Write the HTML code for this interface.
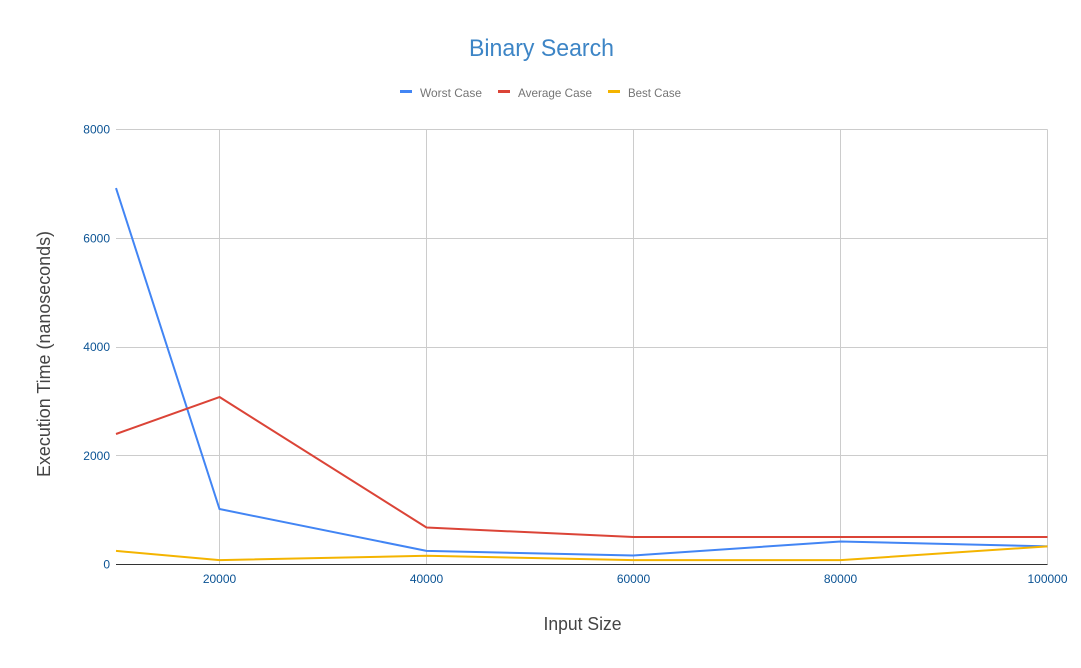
<!DOCTYPE html>
<html>
<head>
<meta charset="utf-8">
<title>Binary Search</title>
<style>
html,body{margin:0;padding:0;background:#fff;width:1081px;height:668px;overflow:hidden}
svg{display:block;font-family:"Liberation Sans",Arial,sans-serif}
</style>
</head>
<body>
<svg id="chart" xmlns="http://www.w3.org/2000/svg" width="1081" height="668" viewBox="0 0 1081 668">
  <rect x="0" y="0" width="1081" height="668" fill="#ffffff"/>
  <g id="grid"></g>
  <g id="series"></g>
  <g id="ticks"></g>
  <text x="541.5" y="56" text-anchor="middle" font-size="24" fill="#3d85c6" textLength="145" lengthAdjust="spacingAndGlyphs">Binary Search</text>
  <g>
    <g>
      <rect x="400" y="90" width="12" height="3" fill="#4285f4"/>
      <text x="420" y="97" font-size="12" fill="#757575" textLength="62" lengthAdjust="spacingAndGlyphs">Worst Case</text>
    </g>
    <g>
      <rect x="498" y="90" width="12" height="3" fill="#db4437"/>
      <text x="518" y="97" font-size="12" fill="#757575" textLength="74" lengthAdjust="spacingAndGlyphs">Average Case</text>
    </g>
    <g>
      <rect x="608" y="90" width="12" height="3" fill="#f4b400"/>
      <text x="628" y="97" font-size="12" fill="#757575" textLength="53" lengthAdjust="spacingAndGlyphs">Best Case</text>
    </g>
  </g>
  <text x="582.5" y="630" text-anchor="middle" font-size="18" fill="#444444" textLength="78" lengthAdjust="spacingAndGlyphs">Input Size</text>
  <text transform="translate(50,354) rotate(-90)" x="0" y="0" text-anchor="middle" font-size="18" fill="#444444" textLength="246" lengthAdjust="spacingAndGlyphs">Execution Time (nanoseconds)</text>
</svg>
<script>
var inputSizes = [10000, 20000, 40000, 60000, 80000, 100000];
var worstCase = [6924, 1020, 250, 166, 423, 333];
var averageCase = [2400, 3080, 680, 505, 505, 505];
var bestCase = [250, 80, 160, 80, 80, 333];
var xTickValues = [20000, 40000, 60000, 80000, 100000];
var yTickValues = [0, 2000, 4000, 6000, 8000];

var NS = 'http://www.w3.org/2000/svg';
var plotLeft = 116, plotRight = 1047.5, plotTop = 129.5, plotBottom = 564.5;
var xMin = 10000, xMax = 100000, yMin = 0, yMax = 8000;

function xScale(v) {
  return plotLeft + (v - xMin) / (xMax - xMin) * (plotRight - plotLeft);
}
function yScale(v) {
  return plotBottom - (v - yMin) / (yMax - yMin) * (plotBottom - plotTop);
}
function snap(p) {
  return Math.floor(p) + 0.5;
}
function make(tag, attrs) {
  var el = document.createElementNS(NS, tag);
  for (var k in attrs) { el.setAttribute(k, attrs[k]); }
  return el;
}

var grid = document.getElementById('grid');
var ticks = document.getElementById('ticks');
var seriesGroup = document.getElementById('series');

yTickValues.forEach(function (v) {
  var y = yScale(v);
  if (v !== 0) {
    var line = make('line', {x1: plotLeft, x2: plotRight, y1: snap(y), y2: snap(y), stroke: '#cccccc', 'stroke-width': 1, 'shape-rendering': 'crispEdges'});
    
    
    grid.appendChild(line);
  }
  var label = make('text', {x: 110, y: y + 4, 'text-anchor': 'end', 'font-size': 12, fill: '#0b5394'});
  
  
  label.textContent = String(v);
  ticks.appendChild(label);
});

xTickValues.forEach(function (v) {
  var x = xScale(v);
  var line = make('line', {x1: snap(x), x2: snap(x), y1: plotTop, y2: plotBottom, stroke: '#cccccc', 'stroke-width': 1, 'shape-rendering': 'crispEdges'});
  
  
  grid.appendChild(line);
  var label = make('text', {x: x, y: 583, 'text-anchor': 'middle', 'font-size': 12, fill: '#0b5394'});
  
  
  label.textContent = String(v);
  ticks.appendChild(label);
});

var baseline = make('line', {x1: plotLeft, x2: plotRight, y1: yScale(0), y2: yScale(0), stroke: '#333333', 'stroke-width': 1, 'shape-rendering': 'crispEdges'});


grid.appendChild(baseline);

function drawSeries(values, color, name) {
  var pts = values.map(function (v, i) {
    return xScale(inputSizes[i]).toFixed(2) + ',' + yScale(v).toFixed(2);
  }).join(' ');
  var line = make('polyline', {points: pts, fill: 'none', stroke: color, 'stroke-width': 2, 'stroke-linejoin': 'round'});
  
  
  seriesGroup.appendChild(line);
}
drawSeries(worstCase, '#4285f4', 'line-worst-case');
drawSeries(averageCase, '#db4437', 'line-average-case');
drawSeries(bestCase, '#f4b400', 'line-best-case');
</script>
</body>
</html>
